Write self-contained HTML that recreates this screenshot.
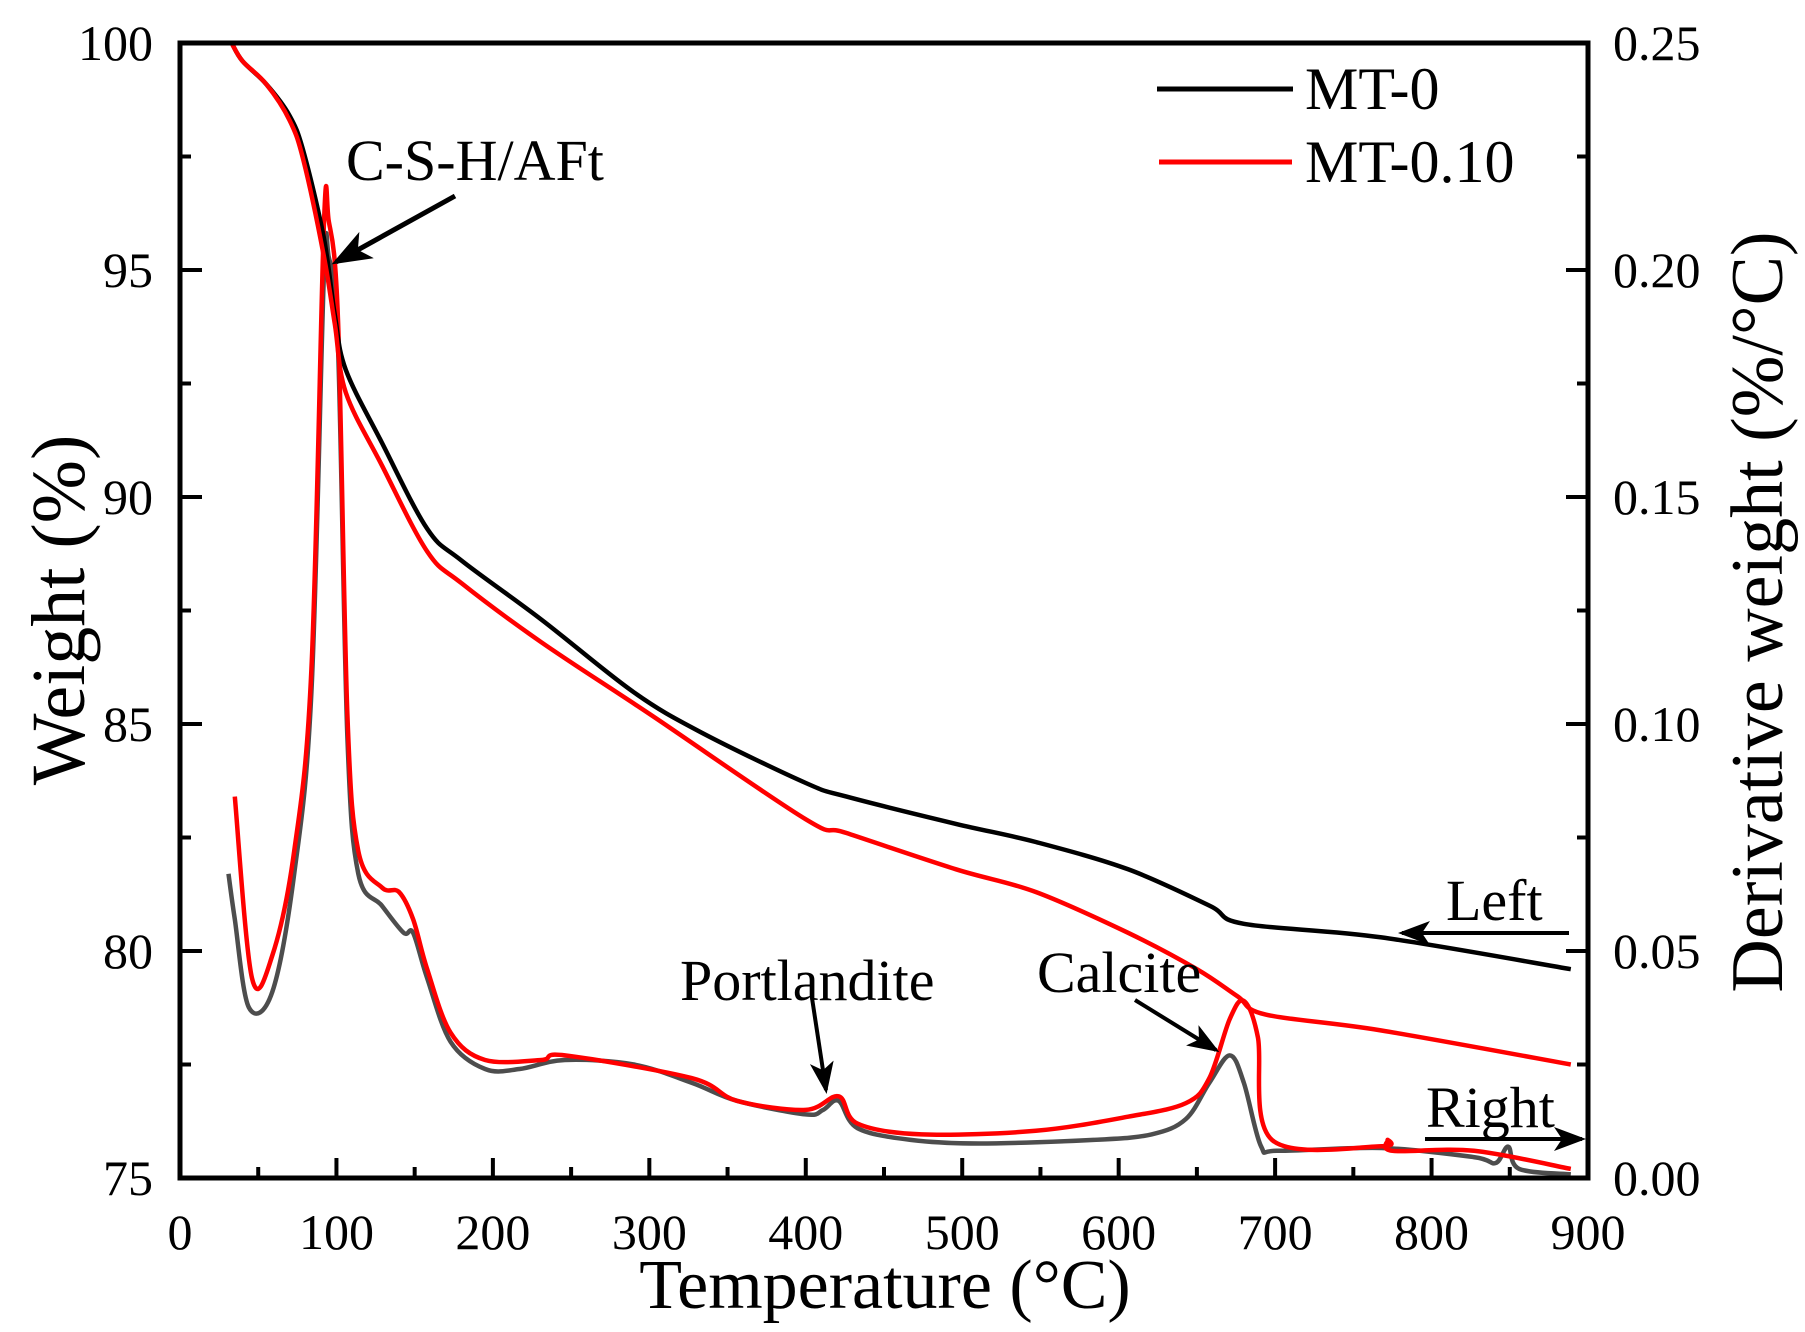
<!DOCTYPE html>
<html><head><meta charset="utf-8"><style>
body{margin:0;background:#fff}
svg{display:block;font-family:"Liberation Serif",serif}
</style></head><body>
<svg id="chart" width="1805" height="1332" viewBox="0 0 1805 1332" xmlns="http://www.w3.org/2000/svg">
<defs><marker id="ah" markerWidth="8" markerHeight="6" refX="7" refY="3" orient="auto" markerUnits="strokeWidth"><path d="M0,0 L8,3 L0,6 L2,3 z" fill="#000"/></marker></defs>
<g id="plot"></g>
<g id="axes"></g>
<g>
<line x1="1157" y1="89" x2="1293" y2="89" stroke="#000" stroke-width="5"/>
<text x="1305" y="109" font-size="60">MT-0</text>
<line x1="1159" y1="162" x2="1292" y2="162" stroke="#f00" stroke-width="5"/>
<text x="1305" y="182" font-size="60">MT-0.10</text>
</g>
<g font-size="58">
<text x="346" y="180">C-S-H/AFt</text>
<line x1="455" y1="196" x2="336" y2="262" stroke="#000" stroke-width="5" marker-end="url(#ah)"/>
<text x="680" y="1000">Portlandite</text>
<line x1="812" y1="998" x2="826" y2="1090" stroke="#000" stroke-width="4" marker-end="url(#ah)"/>
<text x="1037" y="992">Calcite</text>
<line x1="1135" y1="1000" x2="1216" y2="1050" stroke="#000" stroke-width="4" marker-end="url(#ah)"/>
<text x="1446" y="920">Left</text>
<line x1="1569" y1="933" x2="1402" y2="933" stroke="#000" stroke-width="4" marker-end="url(#ah)"/>
<text x="1426" y="1127">Right</text>
<line x1="1425" y1="1139" x2="1582" y2="1139" stroke="#000" stroke-width="4" marker-end="url(#ah)"/>
</g>
<text x="885" y="1308" font-size="70" text-anchor="middle">Temperature (°C)</text>
<text transform="translate(84,610) rotate(-90)" font-size="76" text-anchor="middle">Weight (%)</text>
<text transform="translate(1782,612) rotate(-90)" font-size="74" text-anchor="middle">Derivative weight (%/°C)</text>
</svg>
<script>
const tempTicks=[0,100,200,300,400,500,600,700,800,900];
const weightTicks=[75,80,85,90,95,100];
const derivTicks=["0.00","0.05","0.10","0.15","0.20","0.25"];
const w0T=[33,40,55,70,79,92,99,106,129,158,180,231,290,334,400,426,496,547,606,658,680,768,889];
const w0V=[100,99.6,99.1,98.4,97.6,95.7,94.0,92.8,91.2,89.3,88.6,87.3,85.7,84.8,83.7,83.4,82.8,82.4,81.8,81.0,80.6,80.3,79.6];
const w1T=[33,40,55,70,79,92,99,106,129,158,180,231,301,400,426,496,547,606,650,676,694,768,889];
const w1V=[100,99.6,99.1,98.3,97.4,95.3,93.8,92.3,90.7,88.8,88.1,86.8,85.2,82.9,82.6,81.8,81.3,80.4,79.6,79.0,78.6,78.25,77.5];
const d0T=[31,35,44,59,73,84,92,95,101,107,114,129,143,149,158,173,195,217,246,290,327,356,400,411,421,433,467,511,584,621,643,658,671,680,691,702,768,827,841,849,856,889];
const d0V=[0.067,0.057,0.0376,0.041,0.067,0.107,0.199,0.203,0.183,0.097,0.067,0.060,0.054,0.054,0.044,0.030,0.024,0.024,0.026,0.025,0.021,0.017,0.014,0.015,0.017,0.011,0.0084,0.0076,0.0084,0.0096,0.013,0.021,0.027,0.021,0.007,0.006,0.0066,0.0046,0.0033,0.0069,0.002,0.0008];
const d1T=[35,46,59,73,84,92,95,101,107,114,129,140,149,158,173,195,231,246,327,356,400,421,433,474,547,606,643,658,671,680,689,698,768,772,775,827,889];
const d1V=[0.084,0.044,0.049,0.072,0.112,0.21,0.211,0.189,0.102,0.072,0.064,0.063,0.057,0.046,0.032,0.026,0.026,0.027,0.022,0.017,0.015,0.018,0.012,0.0096,0.0104,0.0135,0.0165,0.022,0.035,0.039,0.031,0.0084,0.007,0.0084,0.006,0.006,0.002];
const X0=180,X1=1588,Y0=43,Y1=1178;
const xs=t=>X0+(t/900)*(X1-X0);
const yw=v=>Y1-(v-75)/25*(Y1-Y0);
const yd=v=>Y1-(v/0.25)*(Y1-Y0);
const NS="http://www.w3.org/2000/svg";
const plot=document.getElementById('plot'),axes=document.getElementById('axes');
function mk(tag,attrs,parent){const e=document.createElementNS(NS,tag);for(const k in attrs)e.setAttribute(k,attrs[k]);parent.appendChild(e);return e;}
function path(T,V,fy,color,name){
  const P=T.map((t,i)=>[xs(t),fy(V[i])]);
  let d='M'+P[0][0].toFixed(1)+','+P[0][1].toFixed(1);
  for(let i=0;i<P.length-1;i++){
    const p0=P[Math.max(0,i-1)],p1=P[i],p2=P[i+1],p3=P[Math.min(P.length-1,i+2)];
    const k=1/6;
    const c1=[p1[0]+(p2[0]-p0[0])*k,p1[1]+(p2[1]-p0[1])*k];
    const c2=[p2[0]-(p3[0]-p1[0])*k,p2[1]-(p3[1]-p1[1])*k];
    d+=' C'+c1.map(v=>v.toFixed(1)).join(',')+' '+c2.map(v=>v.toFixed(1)).join(',')+' '+p2.map(v=>v.toFixed(1)).join(',');
  }
  const p=mk('path',{d:d,fill:'none',stroke:color,'stroke-width':4.5,'stroke-linejoin':'round'},plot);
  
  
}
path(d0T,d0V,yd,'#4d4d4d','dtg-line-mt-0');
path(d1T,d1V,yd,'#f00','dtg-line-mt-010');
path(w0T,w0V,yw,'#000','weight-line-mt-0');
path(w1T,w1V,yw,'#f00','weight-line-mt-010');
const fr=mk('rect',{x:X0,y:Y0,width:X1-X0,height:Y1-Y0,fill:'none',stroke:'#000','stroke-width':5},axes);


tempTicks.forEach((t,i)=>{
  mk('line',{x1:xs(t),y1:Y1,x2:xs(t),y2:Y1-20,stroke:'#000','stroke-width':4},axes);
  if(i<tempTicks.length-1)mk('line',{x1:xs(t+50),y1:Y1,x2:xs(t+50),y2:Y1-11,stroke:'#000','stroke-width':4},axes);
  const tx=mk('text',{x:xs(t),y:1249,'font-size':50,'text-anchor':'middle'},axes);tx.textContent=t;
  
  
});
weightTicks.forEach((v,i)=>{
  mk('line',{x1:X0,y1:yw(v),x2:X0+22,y2:yw(v),stroke:'#000','stroke-width':4},axes);
  mk('line',{x1:X1,y1:yw(v),x2:X1-22,y2:yw(v),stroke:'#000','stroke-width':4},axes);
  if(i<weightTicks.length-1){
    mk('line',{x1:X0,y1:yw(v+2.5),x2:X0+11,y2:yw(v+2.5),stroke:'#000','stroke-width':4},axes);
    mk('line',{x1:X1,y1:yw(v+2.5),x2:X1-11,y2:yw(v+2.5),stroke:'#000','stroke-width':4},axes);
  }
  const tx=mk('text',{x:153,y:yw(v)+17,'font-size':50,'text-anchor':'end'},axes);tx.textContent=v;
  
  
});
derivTicks.forEach(s=>{
  const tx=mk('text',{x:1613,y:yd(parseFloat(s))+17,'font-size':50},axes);tx.textContent=s;
  
  
});
</script>
</body></html>
